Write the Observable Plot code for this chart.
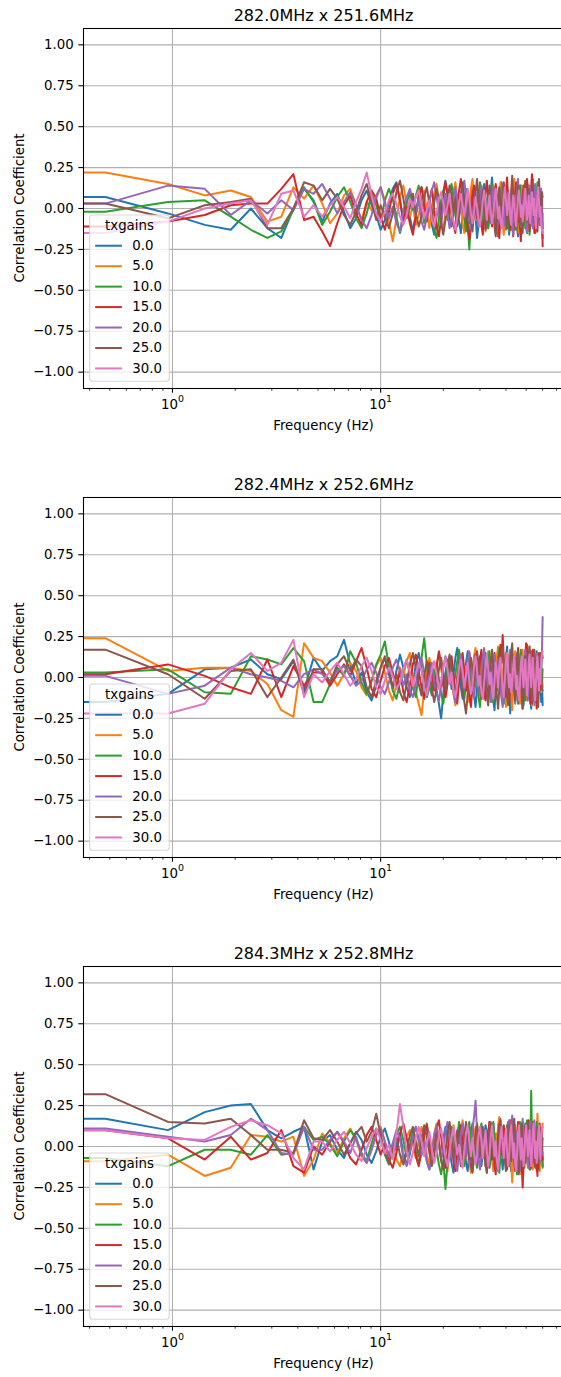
<!DOCTYPE html>
<html><head><meta charset="utf-8">
<script src="https://cdn.jsdelivr.net/npm/d3@7"></script>
<script src="https://cdn.jsdelivr.net/npm/@observablehq/plot@0.6"></script>
<style>
html,body{margin:0;padding:0;background:#fff;overflow:hidden;}
#chart{width:561px;overflow:hidden;}
#chart svg{display:block;}
</style></head><body><div id="chart"></div>
<script>
// ---------- data ----------
const freqs = [0,0.476,0.952,1.429,1.905,2.381,2.857,3.333,3.810,4.286,4.762,5.238,5.714,6.190,6.667,7.143,7.619,8.095,8.571,9.048,9.524,10,
10.476,10.952,11.429,11.905,12.381,12.857,13.333,13.810,14.286,14.762,15.238,15.714,16.190,16.667,17.143,17.619,18.095,18.571,19.048,19.524,20,
20.476,20.952,21.429,21.905,22.381,22.857,23.333,23.810,24.286,24.762,25.238,25.714,26.190,26.667,27.143,27.619,28.095,28.571,29.048,29.524,30,
30.476,30.952,31.429,31.905,32.381,32.857,33.333,33.810,34.286,34.762,35.238,35.714,36.190,36.667,37.143,37.619,38.095,38.571,39.048,39.524,40,
40.476,40.952,41.429,41.905,42.381,42.857,43.333,43.810,44.286,44.762,45.238,45.714,46.190,46.667,47.143,47.619,48.095,48.571,49.048,49.524,50,
50.476,50.952,51.429,51.905,52.381,52.857,53.333,53.810,54.286,54.762,55.238,55.714,56.190,56.667,57.143,57.619,58.095,58.571,59.048,59.524,60];

const gainLabels = ["0.0","5.0","10.0","15.0","20.0","25.0","30.0"];
const legendTitle = "txgains";
const panelTitles = ["282.0MHz x 251.6MHz","282.4MHz x 252.6MHz","284.3MHz x 252.8MHz"];
const xLabel = "Frequency (Hz)";
const yLabel = "Correlation Coefficient";
const yTicks = [-1,-0.75,-0.5,-0.25,0,0.25,0.5,0.75,1];
const xMajorTicks = [1,10];
const xMajorLabels = ["10^0","10^1"];
const xMinorTicks = [0.4,0.5,0.6,0.7,0.8,0.9,2,3,4,5,6,7,8,9,20,30,40,50,60,70];
const colors = ["#1f77b4","#ff7f0e","#2ca02c","#d62728","#9467bd","#8c564b","#e377c2"];

// Panel 1: 282.0MHz x 251.6MHz
const p1_g0 = [.07,.07,-.03,-.10,-.13,.00,-.12,-.18,.00,.12,.05,
-.08,.03,.09,-.02,-.12,-.06,.05,.11,.02,-.04,-.13,-.07,.04,.12,.16,.05,-.09,.01,-.05,-.14,
-.03,.08,.13,.06,-.02,.07,-.10,-.16,-.05,.04,-.01,.10,.17,.08,-.06,-.11,-.03,.09,.02,-.08,
-.15,-.04,.06,.12,.03,-.09,.01,.14,.07,-.05,-.18,-.10,.02,-.03,.09,.15,.04,-.07,-.12,.05,
.11,.19,.06,-.04,-.14,-.08,.03,-.02,.10,.16,.01,-.11,-.06,.08,.02,-.09,-.16,-.04,.07,.13,
.04,-.05,.09,-.03,-.12,-.17,-.06,.08,.14,.03,-.07,.01,.12,.06,-.10,-.15,-.02,.10,.05,-.06,
.02,.13,.18,.04,-.08,-.03,-.14,-.06,.07,.15,.02,-.10,.05,-.04,-.12,-.18];
const p1_g5 = [.22,.22,.15,.08,.11,.07,-.08,-.05,.13,.06,.14,
.03,-.09,-.03,.08,.12,.02,-.07,.04,-.01,.06,.13,.05,-.08,-.20,-.06,.07,.14,.03,-.05,.02,
-.10,-.04,.06,.11,-.02,-.12,.01,.09,.15,.04,-.07,-.13,-.02,.08,.03,-.06,.10,.16,.07,-.04,
.05,-.09,-.15,-.03,.08,.02,.12,.18,.06,-.07,-.01,-.11,.04,.13,.07,-.05,-.14,-.06,.09,.01,
-.08,.06,.14,.09,-.03,-.12,-.05,.07,.16,.02,-.09,-.16,-.04,.05,-.02,.11,.06,-.08,-.13,.03,
.12,.18,.05,-.06,.02,-.10,-.15,-.04,.09,.14,.01,-.08,.06,-.03,-.12,.04,.15,.08,-.05,-.11,
-.02,.10,.16,.04,-.09,.03,-.07,-.14,.02,.11,.06,-.05,.08,-.04,-.10,-.03];
const p1_g10 = [-.02,-.02,.04,.05,-.05,-.13,-.18,-.14,-.01,.13,.04,
-.10,-.02,.07,.13,.04,-.06,-.12,-.03,.09,.02,-.08,.05,.12,.06,-.05,-.15,-.07,.03,.10,-.01,
.08,.14,.03,-.09,-.04,.06,-.02,-.13,-.18,-.06,.05,.11,.02,-.07,.09,.15,.07,-.04,-.11,.01,
.10,.04,-.06,-.14,-.08,-.25,-.09,.05,.12,.03,-.05,.08,.16,.06,-.10,-.03,.07,-.02,-.12,-.06,
.09,.15,.01,-.07,.04,-.11,-.17,-.05,.06,.13,.08,-.03,-.10,.02,.11,-.04,-.14,-.07,.05,.12,
.03,-.08,.06,-.02,-.13,-.06,.08,.14,.04,-.09,.02,.10,-.05,-.12,.01,.13,.07,-.04,-.16,-.07,
.05,.12,-.01,.08,-.06,-.15,-.03,.09,.16,.04,-.08,.02,-.05,.07,-.02,-.12];
const p1_g15 = [-.11,-.11,-.08,-.04,.02,.03,.03,.12,.21,-.07,-.05,
-.14,-.23,-.09,.02,.08,-.03,-.10,.04,.11,.06,-.05,-.13,-.02,.09,.15,.05,-.07,.01,-.09,-.16,
-.04,.07,.13,.02,-.08,.05,.12,-.01,-.11,-.17,-.06,.08,.16,.09,-.03,.04,-.10,-.15,.01,.11,
.18,.07,-.05,.03,-.12,-.19,-.08,.06,.14,.02,-.06,.09,.04,-.10,-.16,-.03,.10,.17,.05,-.08,
.02,-.11,-.04,.08,.15,.06,-.09,-.18,-.07,.05,.12,.01,-.06,.11,.19,.07,-.05,-.13,.03,-.10,
-.17,-.05,.09,.16,.04,-.08,.03,-.12,-.20,-.09,.06,.14,.02,-.07,.10,.18,.08,-.04,-.14,.01,
.13,.21,.07,-.06,-.15,-.02,.09,-.05,-.14,.04,.16,.06,-.10,.03,.09,-.23];
const p1_g20 = [.03,.03,.14,.12,-.04,.05,-.03,.05,-.01,.12,.09,
.15,.06,-.03,.04,.10,.02,-.07,-.12,-.04,.08,.13,.03,-.06,.01,-.09,-.14,-.02,.07,.12,.05,
-.04,.06,-.08,-.13,-.05,.04,.11,.16,.07,-.02,-.10,.01,.09,-.03,-.12,-.07,.05,.13,.04,-.06,
.03,.12,.17,.06,-.07,-.02,-.13,-.09,.04,.10,-.01,-.11,.02,.14,.08,-.05,-.12,-.04,.07,.01,
-.09,.05,.13,.07,-.03,-.14,-.06,.06,-.02,.09,.15,.04,-.08,-.13,.01,.10,.05,-.07,.03,-.11,
-.16,-.04,.08,.02,.12,.18,.06,-.05,-.11,.03,-.06,.07,.13,.01,-.09,-.15,-.03,.08,.14,.05,
-.07,.02,-.12,-.05,.09,.15,.03,-.08,.06,.11,-.02,-.10,.04,.12,-.06,-.12];
const p1_g25 = [.03,.03,-.06,.02,.04,.06,-.12,-.12,.00,.16,.14,
.05,.12,.06,-.04,-.10,-.02,.08,.15,.04,-.07,.02,-.05,-.12,-.03,.10,.17,.06,-.06,.01,.09,
-.03,-.11,-.05,.07,.13,.03,-.08,.04,.12,.06,-.09,-.16,-.07,.05,.14,.08,-.02,.06,-.10,-.04,
.09,.16,.02,-.09,-.04,.07,-.06,-.14,-.02,.10,.18,.05,-.07,.03,.11,-.01,-.13,-.08,.06,.14,
.04,-.07,.02,-.11,-.17,-.05,.08,.13,.01,-.06,.09,.16,.07,-.04,-.12,-.02,.05,-.09,.11,.20,
.08,-.05,-.13,-.03,.06,.14,.02,-.10,.04,-.07,-.15,-.04,.09,.17,.06,-.08,.03,.12,-.02,-.11,
-.05,.08,.15,.03,-.09,.05,-.04,-.13,.01,.12,.18,.06,-.07,.02,.10,.07];
const p1_g30 = [-.15,-.15,-.08,.00,.03,.05,-.10,.09,.11,-.05,.02,
-.05,.02,.07,.01,-.06,.04,.12,.22,.08,-.03,-.08,-.02,.05,.09,.03,-.05,-.10,-.04,.06,.01,
.07,.11,.02,-.06,-.01,.05,-.07,-.11,-.03,.06,.10,.03,-.04,.02,.09,-.02,-.08,-.13,-.05,.04,
.09,.02,-.05,.04,.12,.06,-.03,-.09,-.02,.07,.01,-.06,-.11,-.04,.05,.11,.03,-.07,.02,.08,
-.02,-.09,-.04,.06,.12,.03,-.06,.01,-.08,-.12,-.03,.07,.13,.05,-.04,.02,.09,-.05,-.10,.00,
.08,.03,-.06,-.11,-.02,.07,.11,.04,-.05,.02,-.08,-.03,.06,.12,.02,-.07,-.01,.08,-.04,-.09,
.03,.10,.05,-.04,.06,-.07,-.12,-.02,.08,.13,.04,-.05,.01,-.09,-.13,-.15];

// Panel 2: 282.4MHz x 252.6MHz
const p2_g0 = [-.15,-.15,-.10,.05,.06,.11,.02,-.01,.10,-.08,.12,
.04,.10,.13,.23,.08,-.04,.03,-.09,-.14,-.05,.06,.12,.02,-.07,.04,.14,.06,-.06,-.12,-.03,
.08,.15,.05,-.04,-.12,-.06,.07,.01,-.08,-.16,-.25,-.10,.03,.11,.05,-.07,.02,.12,.18,.06,
-.06,-.13,-.03,.09,.16,.04,-.08,.02,-.11,-.18,-.07,.05,.13,.06,-.04,.08,.15,.03,-.10,-.05,
.07,-.02,-.14,-.20,-.06,.08,.17,.10,-.03,.05,-.09,-.16,-.02,.11,.19,.05,-.07,-.22,-.09,.04,
.12,.02,-.08,.06,.15,.08,-.05,-.14,-.03,.09,-.06,-.17,-.08,.04,.13,.20,.06,-.10,.01,-.12,
-.19,-.07,.06,.14,.03,-.09,.08,.16,.05,-.11,-.04,.10,-.06,-.15,-.02,-.17];
const p2_g5 = [.24,.24,.04,.06,.06,.04,-.04,-.20,-.24,.21,.12,
.10,.03,-.05,.02,.09,.04,-.06,-.11,-.02,.07,.12,.03,-.08,-.14,-.04,.06,.01,.10,.15,-.02,
-.09,-.16,-.23,-.08,.05,.12,.03,-.06,.08,.15,.06,-.04,-.12,-.03,.09,.02,-.10,-.17,-.05,.07,
.14,.05,-.04,.07,-.08,-.15,-.06,.04,.13,.18,.06,-.09,-.02,.10,-.05,-.13,-.03,.08,.16,.04,
-.07,-.15,-.04,.09,.02,.13,.19,.07,-.06,-.12,.01,.10,-.03,-.18,-.09,.05,.14,.06,-.11,-.20,
-.06,.08,.16,.04,-.07,.02,-.11,-.16,-.05,.09,.17,.07,-.04,.05,-.08,-.14,.03,.12,.19,.06,
-.08,-.17,-.04,.10,.03,-.06,.08,.14,.02,-.10,-.03,.12,.05,-.09,.04,-.06];
const p2_g10 = [.03,.03,.05,-.09,-.10,.13,.11,.08,.18,.10,-.15,
-.15,-.04,.06,.01,.16,.09,-.03,-.10,-.02,.08,.14,.22,.07,-.08,-.13,-.03,.05,.11,.02,-.06,
-.12,.03,.12,.24,.08,-.05,-.11,.02,.09,-.01,-.10,-.16,-.05,.07,.13,.04,-.06,.02,.10,.17,
.06,-.05,-.13,-.04,.08,.15,.03,-.07,.04,.11,-.02,-.12,-.18,-.06,.05,.13,.07,-.04,.09,.16,
.05,-.08,-.15,-.03,.06,-.02,.11,.18,.07,-.05,-.13,-.04,.08,.02,-.09,-.17,-.06,.10,.15,.03,
-.07,.04,.12,-.01,-.10,-.16,-.04,.09,.17,.06,-.03,.07,-.08,-.14,.01,.12,.05,-.06,-.13,-.02,
.09,.16,.04,-.07,.03,-.10,-.15,-.05,.08,.13,.02,-.08,.05,.11,-.03,.05];
const p2_g15 = [.02,.02,.08,.01,-.06,-.10,.11,-.12,.07,-.05,.03,
.03,-.05,.02,.08,.01,.10,.18,.06,-.07,-.12,-.02,.07,.12,.03,-.06,.04,-.09,-.15,-.05,.08,
.14,.04,-.06,-.13,-.02,.09,.03,-.08,.06,.16,.08,-.05,-.12,-.04,.07,.13,.02,-.10,-.16,-.03,
.09,.15,.04,-.08,.02,-.11,-.18,-.06,.07,.14,.05,-.04,.10,.17,.06,-.09,-.14,-.02,.08,-.04,
-.13,-.05,.07,.15,.04,-.08,.03,.12,.20,.09,.26,.11,-.04,-.12,.02,-.07,-.16,-.05,.06,.14,
.05,-.06,-.14,-.03,.10,.18,.07,-.05,.04,-.09,-.19,-.08,.05,.13,.21,.08,-.04,.03,-.10,-.16,
-.05,.09,.17,.04,-.08,.06,-.11,-.19,-.06,.08,.15,.03,-.07,.10,.16,.12];
const p2_g20 = [.01,.01,-.10,-.05,.06,.02,.00,-.02,-.06,.02,.05,
.02,-.02,.04,.07,.01,-.05,-.02,.05,.09,.03,-.06,-.10,-.03,.06,.11,.04,-.05,.02,-.08,-.12,
-.04,.07,.12,.03,-.06,.02,.09,-.03,-.10,-.14,-.05,.06,.13,.08,-.02,.05,-.09,-.15,-.04,.08,
.14,.05,-.07,-.01,.10,.16,.06,-.05,-.12,-.03,.07,-.04,-.11,.02,.12,.18,.07,-.06,.03,-.09,
-.15,-.05,.08,.14,.04,-.07,.02,.11,-.03,-.13,-.18,-.06,.07,.15,.05,-.04,.09,.17,.06,-.08,
.03,-.10,-.16,-.04,.09,.15,.02,-.07,.06,-.03,-.12,-.06,.08,.17,.09,-.05,-.14,-.02,.10,.16,
.05,-.08,.04,-.12,-.17,-.05,.07,.14,.03,-.09,.06,.12,-.04,.08,.14,.37];
const p2_g25 = [.17,.17,.02,-.13,.04,.05,-.12,.00,.11,-.10,.05,
.05,-.03,.08,.13,.04,.11,.07,-.06,-.12,-.02,.06,.13,.03,-.05,.02,-.09,-.14,-.04,.08,.15,
.06,-.04,-.11,.01,.10,.04,-.07,-.15,-.06,.05,.12,.02,-.08,.03,.14,.07,-.04,-.12,.01,.09,
.03,-.09,-.15,-.22,-.10,.04,.12,.06,-.05,.07,.16,.09,-.03,-.13,-.05,.06,-.02,-.11,-.17,-.04,
.08,.17,.06,-.05,.03,-.12,-.19,-.07,.05,.14,.19,.08,-.06,.02,-.09,-.16,-.03,.09,.15,.21,
.07,-.06,-.14,-.04,.08,.16,.05,-.08,.03,-.11,-.19,-.07,.06,.13,.02,-.09,.05,.14,.19,.04,
-.08,-.16,-.03,.09,.17,.06,-.07,.04,-.10,-.18,-.05,.08,.15,.03,-.06,-.08];
const p2_g30 = [-.22,-.22,-.22,-.16,.05,.15,.04,.09,.23,-.12,.02,
-.03,.04,.09,.02,-.05,-.01,.07,.12,.04,-.06,-.10,-.02,.06,.01,-.07,-.03,.05,.11,.03,-.05,
.02,.09,.04,-.06,-.11,-.03,.05,.10,.02,-.07,-.02,.07,.12,.05,-.04,.03,-.08,-.12,-.04,.06,
.11,.03,-.06,.02,.09,-.03,-.10,-.05,.07,.13,.04,-.05,.01,-.09,-.13,-.03,.08,.14,.05,-.04,
.03,-.08,-.13,-.02,.09,.04,-.06,.06,.12,.02,-.07,-.12,-.01,.10,.15,.05,-.06,.02,-.09,-.04,
.07,.13,.03,-.07,.01,-.10,-.14,-.05,.08,.13,.04,-.06,.03,.11,-.02,-.11,-.05,.09,.14,.03,
-.06,.04,.12,.02,-.09,-.14,-.03,.07,.13,.01,-.08,.05,-.04,.10,.14,.16];

// Panel 3: 284.3MHz x 252.8MHz
const p3_g0 = [.17,.17,.10,.21,.25,.26,.10,.05,.09,.12,-.14,
.03,.07,-.02,-.07,.02,.09,.04,-.05,-.10,-.03,.06,.11,.03,-.06,.01,.08,-.04,-.11,-.05,.07,
.12,.04,-.05,.03,-.09,-.14,-.04,.06,.11,.02,-.07,.05,.12,.06,-.03,-.10,-.16,-.06,.07,.13,
.05,-.06,.02,-.10,-.15,-.03,.08,.14,.04,-.07,.03,.10,-.02,-.12,-.05,.06,.13,.08,-.04,-.13,
-.06,.07,.14,.03,-.08,.01,.10,.16,.05,-.06,-.14,-.04,.05,-.02,.09,.15,.02,-.09,-.15,-.03,
.08,.14,.02,-.07,.04,-.11,-.17,-.06,.07,.13,.03,-.05,.06,.14,.07,-.06,-.12,.01,-.08,-.14,
-.03,.09,.15,.05,-.06,.04,-.09,-.15,-.04,.08,.13,.02,-.07,.05,-.04,-.12];
const p3_g5 = [-.09,-.09,-.05,-.18,-.13,.07,.06,.03,.06,-.18,-.08,
.08,.02,-.04,.05,.11,.04,-.06,-.10,-.02,.07,.12,.03,-.05,.01,-.08,-.12,-.03,.06,.10,.02,
-.07,.04,.12,.06,-.05,-.11,-.02,.08,.14,.05,-.06,.02,-.09,-.15,-.05,.07,.13,.03,-.08,-.02,
.09,.16,.05,-.07,.02,-.10,-.16,-.06,.06,.12,.02,-.08,.04,.13,.07,-.04,-.12,-.03,.08,.15,
.04,-.09,-.15,-.03,.08,.02,.13,.18,.06,-.07,-.02,.09,-.04,-.12,-.05,.07,.14,.03,-.10,-.22,
-.09,.04,.13,.06,-.05,.03,-.10,-.17,-.07,.08,.15,.04,-.06,.02,.11,-.03,-.13,-.06,.07,.14,
.03,-.08,-.14,-.02,.09,.04,-.06,.08,.20,.07,-.10,-.15,-.03,.10,.04,.14];
const p3_g10 = [-.07,-.07,-.12,-.02,-.02,-.05,.07,-.05,-.04,.12,.04,
.06,.01,-.06,.03,.10,.05,-.04,-.09,.02,.11,.06,-.05,-.11,-.03,.07,.12,.04,-.06,.01,.09,
-.03,-.10,-.04,.08,.14,.03,-.06,.05,-.02,-.11,-.17,-.08,-.26,-.10,.06,.12,.03,-.07,.04,.15,
.07,-.05,-.12,-.03,.09,.15,.04,-.08,.02,-.06,-.13,-.04,.08,.14,.05,-.07,.01,.10,-.02,-.11,
-.05,.07,.15,.06,-.04,.03,-.09,-.16,-.07,.06,.12,.02,-.08,.05,.13,-.01,-.12,-.05,.08,.14,
.04,-.07,.03,-.11,-.17,-.06,.08,.15,.04,-.05,.06,-.04,-.13,-.02,.09,.16,.05,-.08,-.14,.02,
.34,.08,-.07,.03,-.10,-.05,.09,.15,.02,-.09,-.14,.04,.11,-.02,.06,-.13];
const p3_g15 = [.10,.10,.05,-.08,.06,-.08,-.04,.10,-.12,-.16,.00,
-.05,.03,.09,.02,-.07,-.11,-.02,.07,.12,.04,-.05,.02,-.08,-.13,-.04,.08,.14,.05,-.03,.06,
-.06,-.12,-.03,.07,.13,.02,-.08,.04,.11,.16,.06,-.05,-.13,-.04,.08,.02,-.09,-.15,-.05,.07,
.13,.03,-.06,.05,.12,-.02,-.11,-.16,-.05,.07,.14,.04,-.07,.02,.10,-.03,-.12,-.06,.08,.15,
.05,-.08,.02,-.12,-.17,-.06,.07,.14,.03,-.05,.06,.13,.02,-.09,-.14,-.03,.10,.16,.04,-.07,
.02,-.09,-.15,-.04,.08,.15,.05,-.07,.03,-.11,-.25,-.12,.04,.12,.05,-.06,.08,.16,.07,-.05,
-.13,-.03,.09,.15,.04,-.08,.05,-.10,-.18,-.06,.07,.14,.03,-.08,.02,-.08];
const p3_g20 = [.11,.11,.06,.03,.07,.17,.10,-.04,-.05,.12,-.02,
-.02,.04,.09,.03,-.04,.06,-.05,-.10,-.02,.07,.11,.03,-.06,.02,.10,.05,-.07,-.12,-.03,.06,
.12,.04,-.05,.03,-.09,-.14,-.05,.07,.13,.02,-.08,-.02,.09,.15,.05,-.07,.03,-.10,-.15,-.04,
.08,.14,.03,-.06,.05,-.11,-.04,.10,.18,.28,.09,-.08,-.14,-.03,.07,.01,-.10,-.16,-.05,.08,
.15,.06,-.05,.04,-.09,-.15,-.04,.08,.17,.07,-.04,.05,-.08,-.14,-.02,.10,.16,.04,.11,.19,
.06,-.07,-.13,-.03,.09,.04,-.10,-.15,-.05,.08,.17,.06,-.07,.02,.12,.05,-.08,-.13,.01,.15,
.06,-.08,.03,.12,.16,.05,-.09,-.04,.07,.13,.02,-.10,-.03,.09,-.05,-.04];
const p3_g25 = [.32,.32,.15,.14,.17,.07,-.02,-.02,-.04,.16,.05,
.04,.10,.03,-.05,.02,.08,.12,.03,.09,.20,.07,-.04,-.10,-.02,.06,-.05,-.11,-.03,.07,.12,
.03,-.06,.05,.13,.06,-.04,-.12,-.05,.07,.02,-.09,-.14,-.03,.08,.15,.04,-.07,.02,.10,-.03,
-.12,-.06,.07,.15,.04,-.08,-.02,-.15,-.07,.06,.13,.03,-.06,.05,.12,-.02,-.10,-.16,-.04,.09,
.14,.03,-.07,.02,-.09,-.14,-.03,.09,.16,.05,-.06,.04,-.08,-.15,-.05,.08,.13,.02,-.09,.04,
.12,.17,.05,-.08,.03,-.11,-.16,-.04,.09,.14,.03,-.07,.04,-.10,-.05,.07,.15,.06,-.06,-.12,
-.02,.09,.14,.03,-.08,-.13,-.02,.07,.12,.02,-.09,.05,-.06,.11,-.02,.05];
const p3_g30 = [.10,.10,.05,.04,.12,.16,.13,.08,-.07,-.14,.03,
.03,-.03,.04,.09,.02,-.05,-.09,-.01,.06,.11,.04,-.04,.01,-.08,.08,.26,.12,-.03,-.11,-.04,
.06,.12,.03,-.06,.02,.09,-.02,-.10,-.04,.07,.11,.02,-.07,-.12,-.03,.06,.12,.04,-.05,.01,
-.08,-.13,-.02,.08,.13,.03,-.06,.05,-.04,-.11,-.05,.07,.12,.04,-.07,.02,.10,-.03,-.12,-.06,
.06,.13,.04,-.06,.03,-.09,-.14,-.04,.07,.12,.02,-.07,.04,.11,-.03,-.12,-.06,.08,.13,.03,
-.07,.02,-.10,-.15,-.04,.08,.13,.02,-.08,.05,-.03,-.12,-.05,.07,.13,.04,-.06,.03,.10,-.04,
-.12,-.03,.09,.14,.04,-.07,.03,-.10,-.05,.08,.13,.02,-.08,.05,.11,.12];

const panelSeries = [
  [p1_g0,p1_g5,p1_g10,p1_g15,p1_g20,p1_g25,p1_g30],
  [p2_g0,p2_g5,p2_g10,p2_g15,p2_g20,p2_g25,p2_g30],
  [p3_g0,p3_g5,p3_g10,p3_g15,p3_g20,p3_g25,p3_g30]
];

// ---------- layout ----------
// axes span x 83..564 (right spine falls just outside the 561px page, as in the original)
const W = 561, H = 469, mT = 28, mB = 81, mL = 83, mR = -3;
const FONT = "DejaVu Sans", FS = 13.33;

// log x-domain with 5% margins (matplotlib autoscale); zero frequency clipped to the left edge
const posF = freqs.filter(f => f > 0);
const fLo = d3.min(posF), fHi = d3.max(posF);
const span = Math.log10(fHi / fLo);
const xLo = fLo / Math.pow(10, 0.05 * span), xHi = fHi * Math.pow(10, 0.05 * span);

const root = document.getElementById("chart");

panelSeries.forEach((series, p) => {
  const rows = [];
  series.forEach((vals, s) => {
    const n = Math.min(vals.length, freqs.length);
    for (let k = 0; k < n; k++) rows.push({f: freqs[k], v: vals[k], g: gainLabels[s]});
  });

  const svg = Plot.plot({
    width: W, height: H, marginTop: mT, marginBottom: mB, marginLeft: mL, marginRight: mR,
    style: {fontFamily: FONT, fontSize: FS + "px", color: "#000", background: "#fff"},
    x: {type: "log", domain: [xLo, xHi]},
    y: {domain: [-1.1, 1.1]},
    color: {domain: gainLabels, range: colors},
    marks: [
      Plot.gridX(xMajorTicks, {stroke: "#b0b0b0", strokeOpacity: 1, strokeWidth: 1.07}),
      Plot.gridY(yTicks, {stroke: "#b0b0b0", strokeOpacity: 1, strokeWidth: 1.07}),
      Plot.line(rows, {x: d => (d.f > 0 ? d.f : xLo), y: "v", z: "g", stroke: "g", strokeWidth: 2, clip: true}),
      Plot.frame({stroke: "#000", strokeWidth: 1.07}),
      Plot.axisY(yTicks, {tickSize: 4.7, tickPadding: 5, tickFormat: d3.format(".2f"), label: null, fontSize: FS, strokeWidth: 1.07}),
      Plot.axisX(xMinorTicks, {tickSize: 2.7, tickFormat: () => "", label: null, strokeWidth: 0.8}),
      Plot.axisX(xMajorTicks, {tickSize: 4.7, tickPadding: 6.8, tickFormat: d => xMajorLabels[xMajorTicks.indexOf(d)], label: null, fontSize: FS, strokeWidth: 1.07})
    ]
  });

  // render "10^n" tick labels with a real superscript
  svg.querySelectorAll('g[aria-label="x-axis tick label"] text').forEach(t => {
    const m = (t.textContent || "").match(/^(\d+)\^(\d+)$/);
    if (!m) return;
    t.textContent = "";
    t.appendChild(document.createTextNode(m[1]));
    const ts = document.createElementNS("http://www.w3.org/2000/svg", "tspan");
    ts.setAttribute("dy", "-7");
    ts.setAttribute("font-size", "9.5");
    ts.textContent = m[2];
    t.appendChild(ts);
  });

  const s = d3.select(svg);
  const axL = mL, axR = W - mR, axT = mT, axB = H - mB;
  const cx = (axL + axR) / 2;
  // title
  s.append("text").attr("x", cx).attr("y", 20.5).attr("text-anchor", "middle")
    .attr("font-family", FONT).attr("font-size", 16).attr("fill", "#000").text(panelTitles[p]);
  // x label
  s.append("text").attr("x", cx).attr("y", 429.5).attr("text-anchor", "middle")
    .attr("font-family", FONT).attr("font-size", FS).attr("fill", "#000").text(xLabel);
  // y label
  s.append("text").attr("transform", `translate(24,${(axT + axB) / 2}) rotate(-90)`)
    .attr("text-anchor", "middle").attr("font-family", FONT).attr("font-size", FS).attr("fill", "#000").text(yLabel);

  // legend (lower left, matplotlib style)
  const pad = 6.67, bw = 79.6, bh = 166.3;
  const bx = axL + pad, by = axB - pad - bh;
  const g = s.append("g").attr("font-family", FONT).attr("font-size", FS).attr("text-anchor", "start");
  g.append("rect").attr("x", bx).attr("y", by).attr("width", bw).attr("height", bh).attr("rx", 3)
    .attr("fill", "#fff").attr("fill-opacity", 0.8).attr("stroke", "#cccccc").attr("stroke-opacity", 0.8).attr("stroke-width", 1.07);
  g.append("text").attr("x", bx + bw / 2).attr("y", by + 15).attr("text-anchor", "middle").attr("fill", "#000").text(legendTitle);
  gainLabels.forEach((lab, i) => {
    const yb = by + 35 + 20.45 * i;
    g.append("line").attr("x1", bx + 5.5).attr("x2", bx + 32.2).attr("y1", yb - 4.3).attr("y2", yb - 4.3)
      .attr("stroke", colors[i]).attr("stroke-width", 2);
    g.append("text").attr("x", bx + 42.7).attr("y", yb).attr("text-anchor", "start").attr("fill", "#000").text(lab);
  });

  root.appendChild(svg);
});
</script>
</body></html>
